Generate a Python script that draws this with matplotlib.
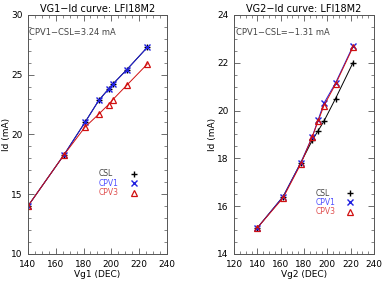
import matplotlib
matplotlib.use('Agg')
import matplotlib.pyplot as plt
from matplotlib.ticker import MultipleLocator

# VG1 sweep
vg1 = [140, 166, 181, 191, 198, 201, 211, 226]
csl1 = [14.0, 18.3, 21.0, 22.85, 23.8, 24.2, 25.4, 27.3]
cpv1_1 = [14.0, 18.3, 21.0, 22.85, 23.8, 24.2, 25.4, 27.3]
cpv3_1 = [14.0, 18.3, 20.6, 21.7, 22.5, 22.9, 24.1, 25.9]

# VG2 sweep
vg2 = [140, 162, 177, 187, 192, 197, 207, 222]
csl2 = [15.1, 16.4, 17.8, 18.75, 19.15, 19.55, 20.5, 22.0]
cpv1_2 = [15.1, 16.4, 17.8, 18.9, 19.6, 20.3, 21.15, 22.7]
cpv3_2 = [15.1, 16.35, 17.75, 18.9, 19.55, 20.2, 21.1, 22.65]

plt.rcParams['font.family'] = 'DejaVu Sans'
fig = plt.figure(figsize=(3.82, 2.83), dpi=100)
ax1 = fig.add_axes([0.073, 0.1025, 0.364, 0.845])
ax2 = fig.add_axes([0.613, 0.1025, 0.366, 0.845])

blue = '#2020e0'
red = '#d01010'


def draw(ax, x, csl, cpv1, cpv3, title, xlabel, note, xlim, ylim, xmaj, ymaj, ymin, leg_xy):
    ax.plot(x, csl, color='black', lw=0.7, marker='+', ms=5, mew=1.0)
    ax.plot(x, cpv1, color=blue, lw=0.7, marker='x', ms=4, mew=1.0)
    ax.plot(x, cpv3, color=red, lw=0.7, marker='^', ms=4.5, mfc='none', mew=0.9)
    ax.set_xlim(xlim)
    ax.set_ylim(ylim)
    ax.xaxis.set_major_locator(MultipleLocator(xmaj))
    ax.xaxis.set_minor_locator(MultipleLocator(5))
    ax.yaxis.set_major_locator(MultipleLocator(ymaj))
    ax.yaxis.set_minor_locator(MultipleLocator(ymin))
    ax.tick_params(which='both', direction='in', top=True, right=True,
                   labelsize=6.5, color='#555555', pad=4)
    ax.tick_params(which='major', length=4, width=0.6)
    ax.tick_params(which='minor', length=2, width=0.5)
    for s in ax.spines.values():
        s.set_color('#555555')
        s.set_linewidth(0.7)
    ax.set_title(title, fontsize=7, pad=2)
    ax.set_xlabel(xlabel, fontsize=6.5, labelpad=1)
    ax.set_ylabel('Id (mA)', fontsize=6.5, labelpad=0)
    ax.text(0.01, 0.925, note, transform=ax.transAxes, fontsize=6,
            color='#444444', va='center')
    lx, ly = leg_xy
    for i, (lab, c, m, tc) in enumerate([('CSL', 'black', '+', '#444444'),
                                          ('CPV1', blue, 'x', '#5050ff'),
                                          ('CPV3', red, '^', '#e05050')]):
        yy = ly - i * 0.039
        ax.text(lx, yy, lab, transform=ax.transAxes, fontsize=5.5, color=tc,
                va='center')
        if m == '^':
            ax.plot([lx + 0.25], [yy], transform=ax.transAxes, marker=m, ms=4.5,
                    mfc='none', mec=c, mew=0.9)
        else:
            ax.plot([lx + 0.25], [yy], transform=ax.transAxes, marker=m, ms=4.5,
                    color=c, mew=1.0)


draw(ax1, vg1, csl1, cpv1_1, cpv3_1, 'VG1\u2212Id curve: LFI18M2', 'Vg1 (DEC)',
     'CPV1\u2212CSL=3.24 mA', (140, 240), (10, 30), 20, 5, 1, (0.51, 0.335))
draw(ax2, vg2, csl2, cpv1_2, cpv3_2, 'VG2\u2212Id curve: LFI18M2', 'Vg2 (DEC)',
     'CPV1\u2212CSL=\u22121.31 mA', (120, 240), (14, 24), 20, 2, 0.5, (0.58, 0.255))

fig.savefig('out.png', dpi=100)
